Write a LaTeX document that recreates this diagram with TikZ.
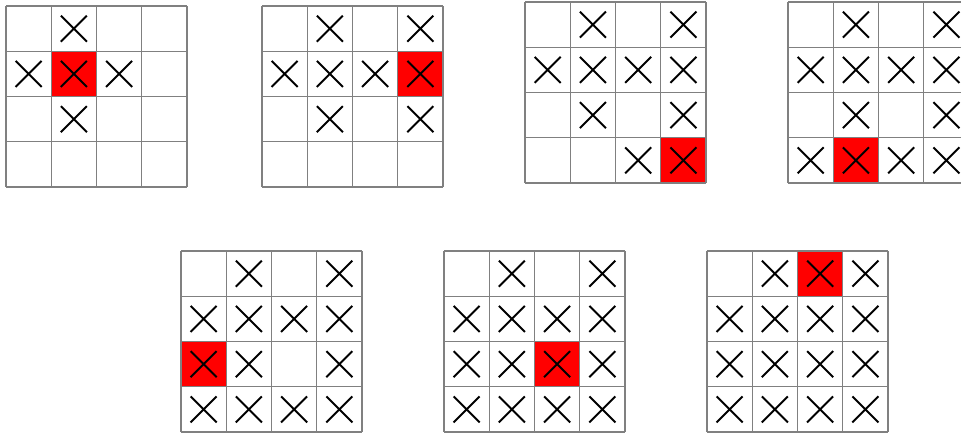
\documentclass[tikz,border=0pt]{standalone}
\usepackage{tikz}

% one cross inside cell (col,row) of a 4x4 board
\newcommand{\crossat}[2]{%
  \draw[xline] ({(#1+0.5)*45.25-13},{(#2+0.5)*45.25-13}) -- ++(26,26)
               ({(#1+0.5)*45.25-13},{(#2+0.5)*45.25+13}) -- ++(26,-26);}
% the 5 lines each way of a 4x4 board
\newcommand{\boardlines}{%
  \foreach \i in {0,...,4}{
    \draw[cell] (\i*45.25,0) -- (\i*45.25,181);
    \draw[cell] (0,\i*45.25) -- (181,\i*45.25);}}

\begin{document}
\begin{tikzpicture}[x=0.75pt,y=-0.75pt,
  cell/.style ={draw=black!50, line width=0.8pt},
  hit/.style  ={fill=red},
  xline/.style={draw=black, line width=1.5pt}]

  \useasboundingbox (0,0) rectangle (961,433);
  \clip (0,0) rectangle (961,433);

  % ---------------- board 1 ----------------
  \begin{scope}[shift={(6,6)}]
    \fill[hit] (45.25,45.25) rectangle ++(45.25,45.25);
    \boardlines
    \foreach \c/\r in {1/0,0/1,1/1,2/1,1/2} {\crossat{\c}{\r}}
  \end{scope}

  % ---------------- board 2 ----------------
  \begin{scope}[shift={(262,6)}]
    \fill[hit] (135.75,45.25) rectangle ++(45.25,45.25);
    \boardlines
    \foreach \c/\r in {1/0,3/0,0/1,1/1,2/1,3/1,1/2,3/2} {\crossat{\c}{\r}}
  \end{scope}

  % ---------------- board 3 ----------------
  \begin{scope}[shift={(525,2)}]
    \fill[hit] (135.75,135.75) rectangle ++(45.25,45.25);
    \boardlines
    \foreach \c/\r in {1/0,3/0,0/1,1/1,2/1,3/1,1/2,3/2,2/3,3/3} {\crossat{\c}{\r}}
  \end{scope}

  % ---------------- board 4 (runs off the right edge) ----------------
  \begin{scope}[shift={(788,2)}]
    \fill[hit] (45.25,135.75) rectangle ++(45.25,45.25);
    \boardlines
    \foreach \c/\r in {1/0,3/0,0/1,1/1,2/1,3/1,1/2,3/2,0/3,1/3,2/3,3/3} {\crossat{\c}{\r}}
  \end{scope}

  % ---------------- board 5 ----------------
  \begin{scope}[shift={(181,251)}]
    \fill[hit] (0,90.5) rectangle ++(45.25,45.25);
    \boardlines
    \foreach \c/\r in {1/0,3/0,0/1,1/1,2/1,3/1,0/2,1/2,3/2,0/3,1/3,2/3,3/3} {\crossat{\c}{\r}}
  \end{scope}

  % ---------------- board 6 ----------------
  \begin{scope}[shift={(444,251)}]
    \fill[hit] (90.5,90.5) rectangle ++(45.25,45.25);
    \boardlines
    \foreach \c/\r in {1/0,3/0,0/1,1/1,2/1,3/1,0/2,1/2,2/2,3/2,0/3,1/3,2/3,3/3} {\crossat{\c}{\r}}
  \end{scope}

  % ---------------- board 7 ----------------
  \begin{scope}[shift={(707,251)}]
    \fill[hit] (90.5,0) rectangle ++(45.25,45.25);
    \boardlines
    \foreach \c/\r in {1/0,2/0,3/0,0/1,1/1,2/1,3/1,0/2,1/2,2/2,3/2,0/3,1/3,2/3,3/3} {\crossat{\c}{\r}}
  \end{scope}
\end{tikzpicture}
\end{document}
